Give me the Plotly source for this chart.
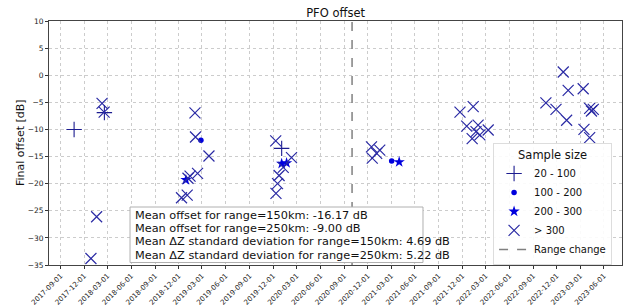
import plotly.graph_objects as go

# ---- data ----
plus_dates = ["2017-10-23", "2018-02-17", "2020-01-03"]
plus_vals = [-10.0, -6.9, -13.5]

dot_dates = ["2019-02-25", "2021-03-03"]
dot_vals = [-12.0, -15.8]

star_dates = ["2018-12-29", "2020-01-03", "2020-01-22", "2021-04-01"]
star_vals = [-19.3, -16.3, -16.2, -16.0]

x_dates = [
    "2018-02-08", "2018-02-16", "2018-01-18", "2017-12-27",
    "2019-02-02", "2019-02-04", "2019-03-28", "2019-02-12", "2019-01-14",
    "2019-01-06", "2018-12-12", "2019-01-03",
    "2019-12-11", "2020-02-10", "2020-01-09", "2019-12-24", "2019-12-18",
    "2019-12-12",
    "2020-12-15", "2021-01-16", "2021-01-04", "2020-12-18",
    "2021-11-22", "2022-01-12", "2021-12-18", "2022-01-31", "2022-03-11",
    "2022-01-23", "2022-01-08", "2022-02-07",
    "2022-10-20", "2022-11-28", "2022-12-26", "2023-01-14", "2023-01-08",
    "2023-03-13", "2023-03-16", "2023-04-07", "2023-04-21", "2023-04-14",
    "2023-04-07",
]
x_vals = [
    -5.2, -6.8, -26.1, -33.8,
    -6.95, -11.4, -14.9, -18.1, -18.6,
    -19.0, -22.6, -22.1,
    -12.1, -15.2, -17.0, -18.5, -20.0,
    -21.8,
    -13.2, -13.8, -14.4, -15.3,
    -6.8, -5.8, -9.4, -9.2, -10.1,
    -10.4, -11.7, -11.0,
    -5.1, -6.3, 0.6, -2.8, -8.3,
    -2.5, -10.0, -6.1, -6.3, -6.6,
    -11.5,
]

range_change_date = "2020-10-01"

tick_dates = [
    "2017-09-01", "2017-12-01", "2018-03-01", "2018-06-01", "2018-09-01",
    "2018-12-01", "2019-03-01", "2019-06-01", "2019-09-01", "2019-12-01",
    "2020-03-01", "2020-06-01", "2020-09-01", "2020-12-01", "2021-03-01",
    "2021-06-01", "2021-09-01", "2021-12-01", "2022-03-01", "2022-06-01",
    "2022-09-01", "2022-12-01", "2023-03-01", "2023-06-01",
]
y_ticks = [-35, -30, -25, -20, -15, -10, -5, 0, 5, 10]

stats_lines = [
    "Mean offset for range=150km: -16.17 dB",
    "Mean offset for range=250km: -9.00 dB",
    "Mean ΔZ standard deviation for range=150km: 4.69 dB",
    "Mean ΔZ standard deviation for range=250km: 5.22 dB",
]

FONT = "DejaVu Sans"
X_COL = "#2a2aa4"

fig = go.Figure()

fig.add_trace(go.Scatter(
    x=plus_dates, y=plus_vals, mode="markers", name="20 - 100",
    marker=dict(symbol="cross-thin", size=11, line=dict(width=1.1, color="#1c1c90"))))
fig.add_trace(go.Scatter(
    x=dot_dates, y=dot_vals, mode="markers", name="100 - 200",
    marker=dict(symbol="circle", size=5.5, color="#0000dd")))
fig.add_trace(go.Scatter(
    x=star_dates, y=star_vals, mode="markers", name="200 - 300",
    marker=dict(symbol="star", size=8.5, color="#0000dd", line=dict(width=0))))
fig.add_trace(go.Scatter(
    x=x_dates, y=x_vals, mode="markers", name="> 300",
    marker=dict(symbol="x-thin", size=11, line=dict(width=1.2, color=X_COL))))
fig.add_trace(go.Scatter(
    x=[range_change_date, range_change_date], y=[y_ticks[0], y_ticks[-1]],
    mode="lines", name="Range change",
    line=dict(color="#808080", width=1.5, dash="dash")))

# stats box (plot area: x 49..622 px, y 21..265 px)
fig.add_shape(type="rect", xref="paper", yref="paper",
              x0=0.1414, x1=0.6527, y0=0.0102, y1=0.2377,
              line=dict(color="#b0b0b0", width=1), fillcolor="white", layer="above")
line_y = [0.2029, 0.1488, 0.0947, 0.0406]
for txt, yy in zip(stats_lines, line_y):
    fig.add_annotation(text=txt, xref="paper", yref="paper", x=0.1466, y=yy,
                       xanchor="left", yanchor="middle", showarrow=False,
                       font=dict(family=FONT, size=11.3, color="#111111"))

# y-axis title
fig.add_annotation(text="Final offset [dB]", xref="paper", yref="paper",
                   x=-0.0506, y=0.5, xanchor="center", yanchor="middle",
                   textangle=-90, showarrow=False,
                   font=dict(family=FONT, size=11, color="#111111"))

fig.update_layout(
    width=629, height=308,
    margin=dict(l=49, r=7, t=21, b=43, autoexpand=False),
    paper_bgcolor="white", plot_bgcolor="white",
    font=dict(family=FONT, color="#222222"),
    title=dict(text="PFO offset", x=0.5335, xanchor="center", xref="container",
               y=0.958, yanchor="middle", yref="container",
               font=dict(family=FONT, size=11.5, color="#111111")),
    showlegend=True,
    legend=dict(
        title=dict(text="Sample size", side="top center",
                   font=dict(family=FONT, size=11.5, color="#111111")),
        x=0.775, y=0.5, xanchor="left", yanchor="top",
        bgcolor="rgba(255,255,255,0.9)", bordercolor="#dddddd", borderwidth=1,
        font=dict(family=FONT, size=10, color="#111111"),
        itemwidth=30, tracegroupgap=0,
    ),
)

fig.update_xaxes(
    type="date", range=["2017-07-18", "2023-08-10"], automargin=False,
    tickvals=tick_dates, ticktext=tick_dates, tickangle=-45,
    tickfont=dict(family=FONT, size=7, color="#222222"),
    ticks="outside", ticklen=3, tickcolor="#333333",
    showgrid=True, gridcolor="#cccccc", griddash="dot", gridwidth=1,
    showline=True, linecolor="#444444", linewidth=1, mirror=True,
    zeroline=False,
)
fig.update_yaxes(
    range=[-35, 10], tickvals=y_ticks, automargin=False,
    ticktext=[str(v).replace("-", "\u2212") for v in y_ticks],
    tickfont=dict(family=FONT, size=7.5, color="#222222"),
    ticks="outside", ticklen=3, tickcolor="#333333",
    showgrid=True, gridcolor="#cccccc", griddash="dot", gridwidth=1,
    showline=True, linecolor="#444444", linewidth=1, mirror=True,
    zeroline=False,
)

fig.write_html("out.html", config={"displayModeBar": False},
               post_script="document.body.style.margin='0';document.body.style.padding='0';")
